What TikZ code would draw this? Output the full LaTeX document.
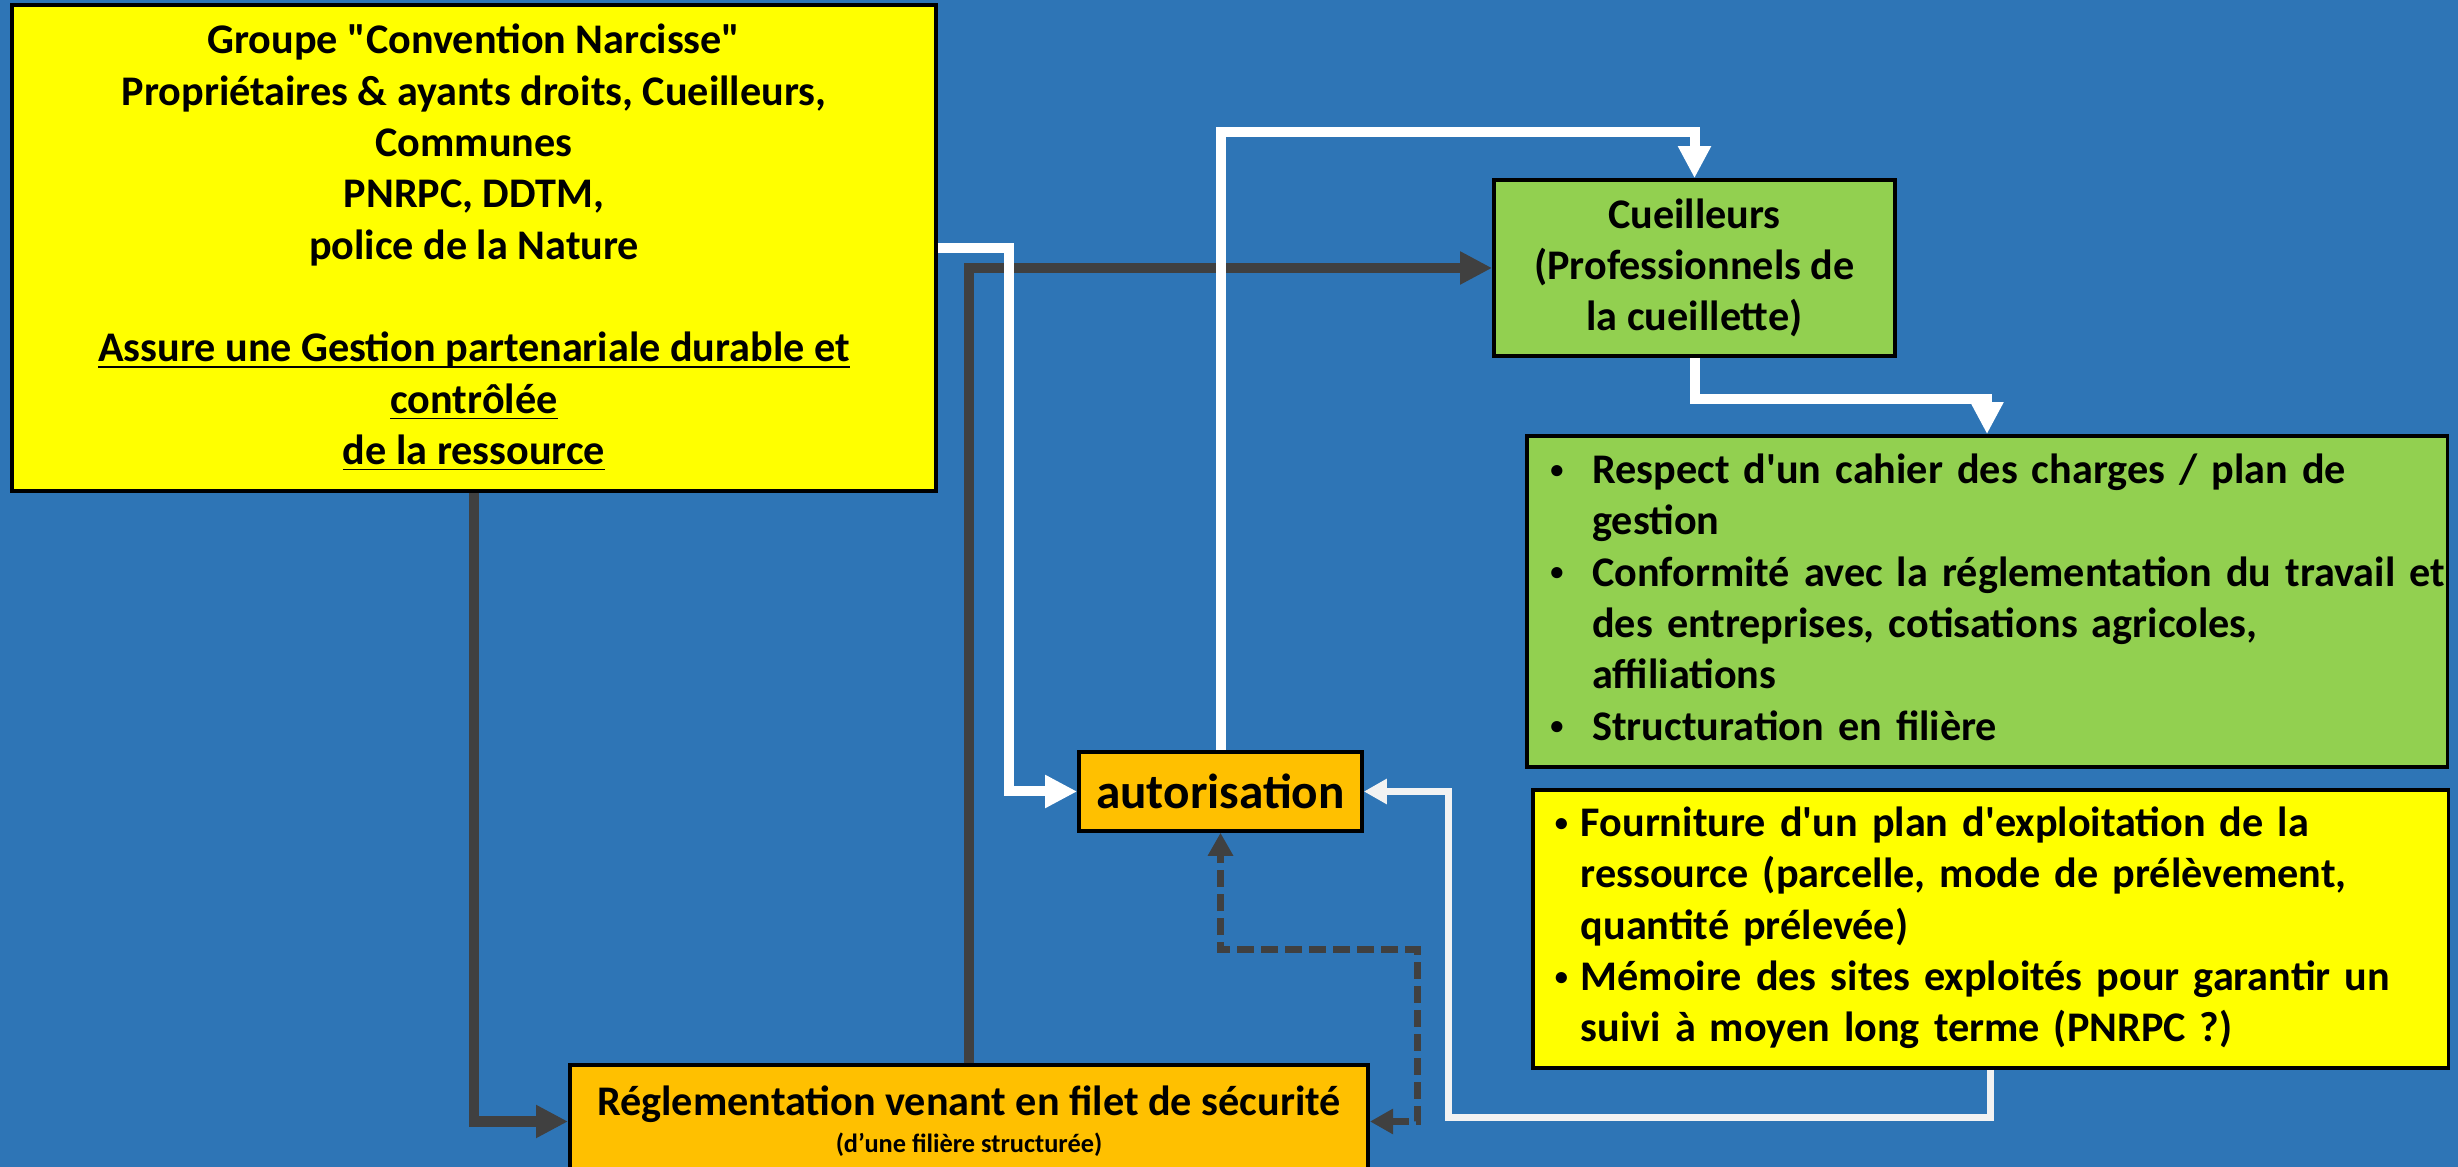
\documentclass[tikz,border=0pt]{standalone}
\usepackage{fontspec}
\setmainfont{Carlito}
\usepackage{tikz}
\usetikzlibrary{arrows.meta, calc}

\definecolor{bgblue}{HTML}{2E75B6}
\definecolor{boxyellow}{HTML}{FFFF00}
\definecolor{boxgreen}{HTML}{92D050}
\definecolor{boxorange}{HTML}{FFC000}
\definecolor{darkgrey}{HTML}{404040}
\definecolor{lightgrey}{HTML}{F2F2F2}

% underline just under the baseline
\newcommand{\ulined}[1]{\underline{\raisebox{0pt}[\height][0pt]{#1}}}
% small bullet
\newcommand{\puce}{\raisebox{1.5pt}{\fontsize{7.5}{8}\selectfont •}}

\begin{document}
\begin{tikzpicture}[x=0.01cm, y=0.01cm, >={Triangle[length=3.2mm, width=3.1mm]}, tipsmall/.tip={Triangle[length=2.3mm, width=2.4mm]}, font=\fontsize{12}{14.6}\selectfont\bfseries, block/.style = {draw=black, line width=1pt, rectangle, inner sep=0pt}, darkarrow/.style = {draw=darkgrey, line width=1mm, ->}, whitearrow/.style = {draw=white, line width=1mm, ->}]
            \useasboundingbox (0,0) rectangle (2458,1167);
            \fill[bgblue] (0,0) rectangle (2458,1167);
            \clip (0,0) rectangle (2458,1167);

            % Groupe
            \node[block, fill=boxyellow, minimum width=9.23cm, minimum height=4.86cm, align=center] (group) at (474,919) {Groupe \textquotedbl Convention Narcisse\textquotedbl\\ Propriétaires \& ayants droits, Cueilleurs,\\ Communes\\ PNRPC, DDTM,\\ police de la Nature\\[14.6pt] \ulined{Assure une Gestion partenariale durable et}\\ \ulined{contrôlée}\\ \ulined{de la ressource}};

            % Cueilleurs
            \node[block, fill=boxgreen, minimum width=4.01cm, minimum height=1.76cm, align=center] (cueil) at (1694.5,899) {Cueilleurs\\ (Professionnels de\\ la cueillette)};
            \node[block, fill=boxgreen, minimum width=9.2cm, minimum height=3.31cm, inner xsep=0.235cm, text width=8.73cm] (resp) at (1987,565.5) {\begin{tabular}{@{}p{0.42cm}@{}l@{}}
                \puce & Respect d\textquotesingle un cahier des charges / plan de\\
                      & gestion\\
                \puce & Conformité avec la réglementation du travail et\\
                      & des entreprises, cotisations agricoles,\\
                      & affiliations\\
                \puce & Structuration en filière
            \end{tabular}};
            \node[block, fill=boxyellow, minimum width=9.15cm, minimum height=2.78cm, inner xsep=0.22cm, text width=8.71cm] (memo) at (1990.5,238) {\begin{tabular}{@{}p{0.26cm}@{}l@{}}
                \puce & Fourniture d\textquotesingle un plan d\textquotesingle exploitation de la\\
                      & ressource (parcelle, mode de prélèvement,\\
                      & quantité prélevée)\\
                \puce & Mémoire des sites exploités pour garantir un\\
                      & suivi à moyen long terme (PNRPC ?)
            \end{tabular}};

            % Autorisation et reglementation
            \node[block, fill=boxorange, minimum width=2.83cm, minimum height=0.79cm, font=\fontsize{14}{17}\selectfont\bfseries] (autor) at (1220.5,375.5) {autorisation};
            \node[block, fill=boxorange, minimum width=7.98cm, minimum height=1.13cm, align=center] (reg) at (969,45.5) {Réglementation venant en filet de sécurité\\[-4.1pt] {\fontsize{7.5}{9}\selectfont (d’une filière structurée)}};

            % Liens
            \draw[darkarrow] (group.south) |- (reg.west);
            \draw[darkarrow] (reg.north) |- (cueil.west);
            \draw[whitearrow] (group.east) -- ++(71,0) |- (autor.west);
            \draw[whitearrow] (autor.north) -- ++(0,618) -| (cueil.north);
            \draw[whitearrow] (cueil.south) -- ++(0,-41) -| (resp.north);
            \draw[lightgrey, line width=0.7mm, -tipsmall] (memo.south) -- ++(0,-48) -| ($(autor.east)+(85,0)$) -- (autor.east);
            \draw[darkgrey, line width=0.7mm, dash pattern=on 1.7mm off 0.7mm, tipsmall-tipsmall] (reg.east) -- ++(47,0) |- ($(autor.south)+(0,-117)$) -- (autor.south);
\end{tikzpicture}
\end{document}
